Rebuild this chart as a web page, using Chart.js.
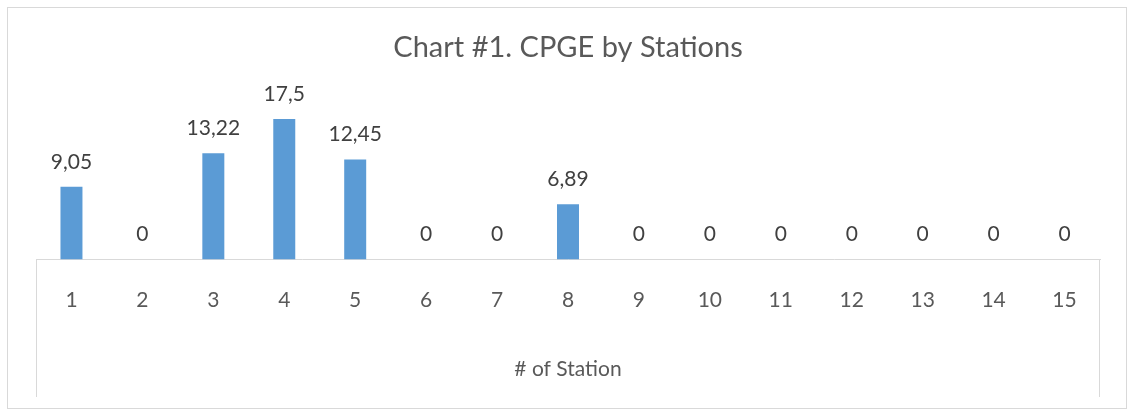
<!DOCTYPE html>
<html>
<head>
<meta charset="utf-8">
<script src="https://cdn.jsdelivr.net/npm/chart.js@4"></script>
<style>
    html, body { margin: 0; padding: 0; background: #ffffff; }
    #wrap { width: 1128px; height: 410px; position: relative; }
</style>
</head>
<body>
<div id="wrap"><canvas id="chart-container"></canvas></div>
<script>
const stations = ["1", "2", "3", "4", "5", "6", "7", "8", "9", "10", "11", "12", "13", "14", "15"];
const cpgeValues = [9.05, 0, 13.22, 17.5, 12.45, 0, 0, 6.89, 0, 0, 0, 0, 0, 0, 0];
const chartTitle = "Chart #1. CPGE by Stations";
const axisTitle = "# of Station";

const fontFamily = "Lato, 'Open Sans', sans-serif";

// outer frame and the two edge lines below the category axis
const framePlugin = {
    id: "frame",
    beforeDraw: function (chart) {
        const ctx = chart.ctx;
        ctx.save();
        ctx.fillStyle = "#ffffff";
        ctx.fillRect(0, 0, chart.width, chart.height);
        ctx.strokeStyle = "#d9d9d9";
        ctx.lineWidth = 1;
        ctx.strokeRect(7.5, 7.5, chart.width - 9, chart.height - 9);
        ctx.restore();
    },
    afterDraw: function (chart) {
        const ctx = chart.ctx;
        const xScale = chart.scales.x;
        ctx.save();
        ctx.strokeStyle = "#d9d9d9";
        ctx.lineWidth = 1;
        ctx.beginPath();
        ctx.moveTo(Math.round(xScale.left) + 0.5, xScale.top);
        ctx.lineTo(Math.round(xScale.left) + 0.5, xScale.bottom - 13);
        ctx.moveTo(Math.round(xScale.right) - 0.5, xScale.top);
        ctx.lineTo(Math.round(xScale.right) - 0.5, xScale.bottom - 13);
        ctx.stroke();
        ctx.restore();
    }
};

// value labels above each bar, comma as decimal separator
const valueLabelPlugin = {
    id: "valueLabels",
    afterDatasetsDraw: function (chart) {
        const ctx = chart.ctx;
        const meta = chart.getDatasetMeta(0);
        ctx.save();
        ctx.font = "21px " + fontFamily;
        ctx.fillStyle = "#404040";
        ctx.textAlign = "center";
        ctx.textBaseline = "middle";
        meta.data.forEach(function (bar, i) {
            const text = String(cpgeValues[i]).replace(".", ",");
            ctx.fillText(text, bar.x, bar.y - 25);
        });
        ctx.restore();
    }
};

const ctx = document.getElementById("chart-container").getContext("2d");
window.myChart = new Chart(ctx, {
    type: "bar",
    data: {
        labels: stations,
        datasets: [
            {
                label: "CPGE",
                data: cpgeValues,
                backgroundColor: "#5b9bd5",
                borderWidth: 0,
                barPercentage: 0.31,
                categoryPercentage: 1,
            },
        ],
    },
    options: {
        responsive: true,
        maintainAspectRatio: false,
        animation: false,
        layout: {
            padding: { left: 36, right: 28, top: 0, bottom: 0 },
        },
        plugins: {
            legend: { display: false },
            tooltip: { enabled: false },
            title: {
                display: true,
                text: chartTitle,
                color: "#595959",
                font: { family: fontFamily, size: 29, weight: "normal" },
                padding: { top: 30, bottom: 34 },
            },
        },
        scales: {
            x: {
                grid: { display: true, drawOnChartArea: false, drawTicks: false },
                border: { display: true, color: "#d9d9d9" },
                ticks: {
                    color: "#595959",
                    font: { family: fontFamily, size: 21 },
                    padding: 28,
                    maxRotation: 0,
                },
                title: {
                    display: true,
                    text: axisTitle,
                    color: "#595959",
                    font: { family: fontFamily, size: 21 },
                    padding: { top: 16, bottom: 28 },
                },
            },
            y: {
                display: false,
                min: 0,
                max: 20,
            },
        },
    },
    plugins: [framePlugin, valueLabelPlugin],
});
</script>
</body>
</html>
